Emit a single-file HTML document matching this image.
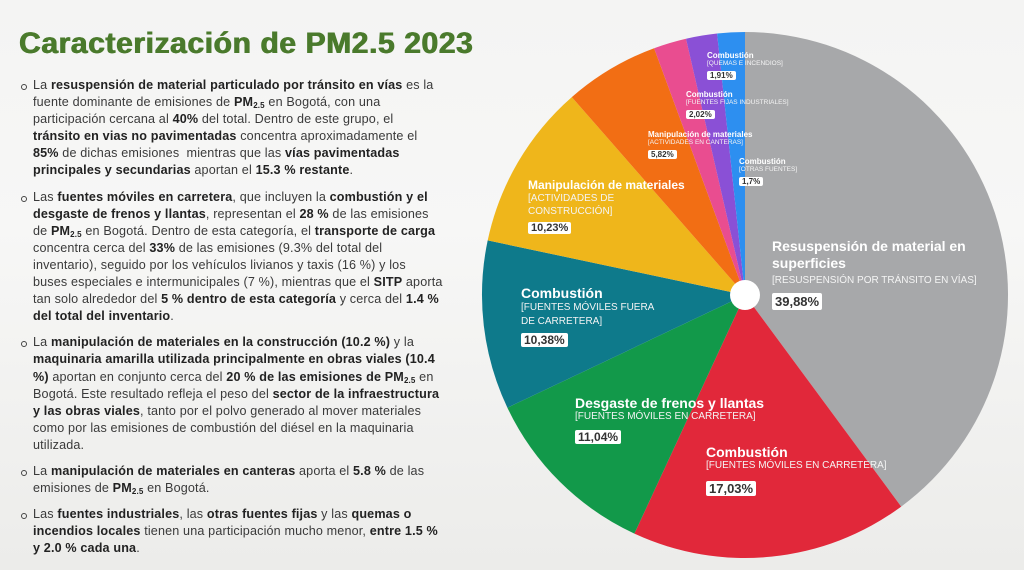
<!DOCTYPE html>
<html><head><meta charset="utf-8"><style>
body{margin:0;width:1024px;height:570px;overflow:hidden;background:linear-gradient(180deg,#f4f4f3 0%,#f7f7f6 40%,#ececea 100%);font-family:"Liberation Sans",sans-serif;position:relative}
h1{position:absolute;left:19px;top:27px;margin:0;font-size:30px;font-weight:900;color:#4a7a2c;letter-spacing:0.6px;white-space:nowrap;text-shadow:0.6px 0 0 #4a7a2c,-0.4px 0 0 #4a7a2c}
.txt{position:absolute;left:33px;width:410px;font-size:12.6px;line-height:17.1px;color:#3a3a3a;letter-spacing:0.15px}
.txt p{margin:0 0 9px 0;position:relative}
.txt p:before{content:"";position:absolute;left:-12px;top:7px;width:4px;height:4px;border:1px solid #444;border-radius:50%}
b{color:#222}
sub{font-size:8px;vertical-align:baseline;position:relative;top:2px;line-height:0}
.l{position:absolute;color:#fff;font-weight:bold;white-space:nowrap}
.s{font-weight:normal;font-size:9px;display:block;color:#f4f4f4}
.v{display:inline-block;background:#fff;color:#333;font-weight:bold;padding:0 3px;margin-top:4px;border-radius:2px}
</style></head><body>
<h1>Caracterización de PM2.5 2023</h1>
<div class="txt" style="top:77px">
<p>La <b>resuspensión de material particulado por tránsito en vías</b> es la fuente dominante de emisiones de <b>PM<sub>2.5</sub></b> en Bogotá, con una participación cercana al <b>40%</b> del total. Dentro de este grupo, el <b>tránsito en vias no pavimentadas</b> concentra aproximadamente el <b>85%</b> de dichas emisiones &nbsp;mientras que las <b>vías pavimentadas principales y secundarias</b> aportan el <b>15.3 % restante</b>.</p>
<p>Las <b>fuentes móviles en carretera</b>, que incluyen la <b>combustión y el desgaste de frenos y llantas</b>, representan el <b>28 %</b> de las emisiones de <b>PM<sub>2.5</sub></b> en Bogotá. Dentro de esta categoría, el <b>transporte de carga</b> concentra cerca del <b>33%</b> de las emisiones (9.3% del total del inventario), seguido por los vehículos livianos y taxis (16 %) y los buses especiales e intermunicipales (7 %), mientras que el <b>SITP</b> aporta tan solo alrededor del <b>5 % dentro de esta categoría</b> y cerca del <b>1.4 % del total del inventario</b>.</p>
<p>La <b>manipulación de materiales en la construcción (10.2 %)</b> y la <b>maquinaria amarilla utilizada principalmente en obras viales (10.4 %)</b> aportan en conjunto cerca del <b>20 % de las emisiones de PM<sub>2.5</sub></b> en Bogotá. Este resultado refleja el peso del <b>sector de la infraestructura y las obras viales</b>, tanto por el polvo generado al mover materiales como por las emisiones de combustión del diésel en la maquinaria utilizada.</p>
<p>La <b>manipulación de materiales en canteras</b> aporta el <b>5.8 %</b> de las emisiones de <b>PM<sub>2.5</sub></b> en Bogotá.</p>
<p>Las <b>fuentes industriales</b>, las <b>otras fuentes fijas</b> y las <b>quemas o incendios locales</b> tienen una participación mucho menor, <b>entre 1.5 % y 2.0 % cada una</b>.</p>
</div>
<svg width="1024" height="570" style="position:absolute;left:0;top:0">
<path d="M745 295 L745 32 A263 263 0 0 1 901.2 506.6Z" fill="#a7a8aa"/>
<path d="M745 295 L901.2 506.6 A263 263 0 0 1 634.4 533.6Z" fill="#e1283a"/>
<path d="M745 295 L634.4 533.6 A263 263 0 0 1 507.4 407.7Z" fill="#12994a"/>
<path d="M745 295 L507.4 407.7 A263 263 0 0 1 487.7 240.4Z" fill="#0e7a8b"/>
<path d="M745 295 L487.7 240.4 A263 263 0 0 1 571.8 97.1Z" fill="#efb61b"/>
<path d="M745 295 L571.8 97.1 A263 263 0 0 1 654.1 48.2Z" fill="#f26e14"/>
<path d="M745 295 L654.1 48.2 A263 263 0 0 1 686 38.7Z" fill="#e94d90"/>
<path d="M745 295 L686 38.7 A263 263 0 0 1 717.1 33.5Z" fill="#8a50d6"/>
<path d="M745 295 L717.1 33.5 A263 263 0 0 1 745 32Z" fill="#2d8ff0"/>
<circle cx="745" cy="295" r="15" fill="#fff"/>
</svg>
<div class="l" style="left:772px;top:238px;font-size:14px;line-height:17px">Resuspensión de material en<br>superficies<span class="s" style="font-size:10px">[RESUSPENSIÓN POR TRÁNSITO EN VÍAS]</span><span class="v" style="font-size:13px">39,88%</span></div>
<div class="l" style="left:706px;top:444px;font-size:14px">Combustión<span class="s" style="font-size:10px">[FUENTES MÓVILES EN CARRETERA]</span><span class="v" style="font-size:13px;margin-top:10px">17,03%</span></div>
<div class="l" style="left:575px;top:395px;font-size:14px">Desgaste de frenos y llantas<span class="s" style="font-size:10px">[FUENTES MÓVILES EN CARRETERA]</span><span class="v" style="font-size:12px;margin-top:8px">11,04%</span></div>
<div class="l" style="left:521px;top:285px;font-size:14px">Combustión<span class="s" style="font-size:10px;line-height:14px">[FUENTES MÓVILES FUERA<br>DE CARRETERA]</span><span class="v" style="font-size:12px">10,38%</span></div>
<div class="l" style="left:528px;top:178px;font-size:12px">Manipulación de materiales<span class="s" style="font-size:10px;line-height:13px">[ACTIVIDADES DE<br>CONSTRUCCIÓN]</span><span class="v" style="font-size:11px">10,23%</span></div>
<div class="l" style="left:648px;top:130px;font-size:8px">Manipulación de materiales<span class="s" style="font-size:6.5px">[ACTIVIDADES EN CANTERAS]</span><span class="v" style="font-size:8px">5,82%</span></div>
<div class="l" style="left:686px;top:90px;font-size:8px">Combustión<span class="s" style="font-size:6.5px">[FUENTES FIJAS INDUSTRIALES]</span><span class="v" style="font-size:8px">2,02%</span></div>
<div class="l" style="left:707px;top:51px;font-size:8px">Combustión<span class="s" style="font-size:6.5px">[QUEMAS E INCENDIOS]</span><span class="v" style="font-size:8px">1,91%</span></div>
<div class="l" style="left:739px;top:157px;font-size:8px">Combustión<span class="s" style="font-size:6.5px">[OTRAS FUENTES]</span><span class="v" style="font-size:8px">1,7%</span></div>
</body></html>
